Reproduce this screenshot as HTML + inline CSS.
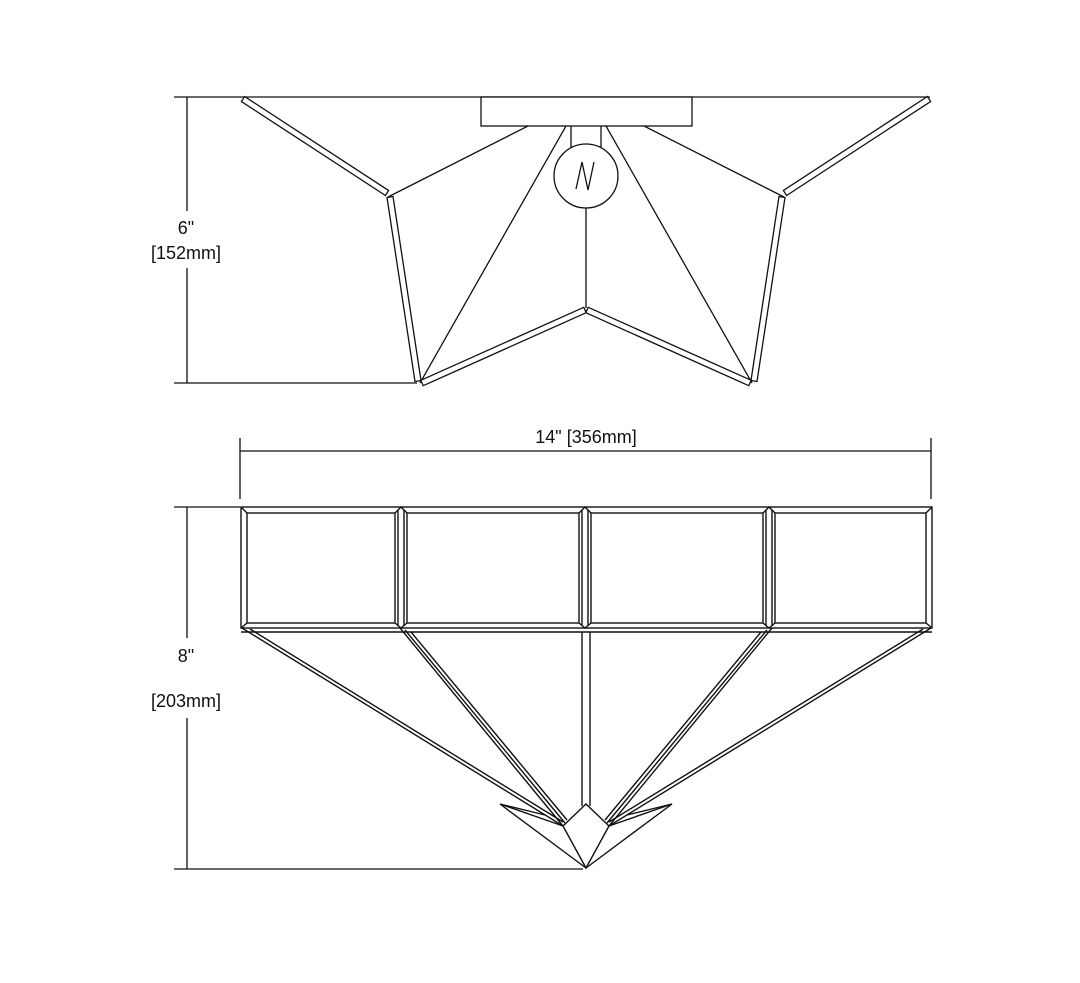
<!DOCTYPE html>
<html><head><style>
html,body{margin:0;padding:0;background:#fff;}
svg{display:block;}
text{font-family:"Liberation Sans",sans-serif;font-size:18px;fill:#111;}
</style></head><body>
<svg width="1080" height="983" viewBox="0 0 1080 983" xmlns="http://www.w3.org/2000/svg">
<g stroke="#111" stroke-width="1.3" fill="none" stroke-linecap="butt">
<line x1="187" y1="97" x2="187" y2="211"/>
<line x1="187" y1="268" x2="187" y2="383"/>
<line x1="174" y1="97" x2="930" y2="97"/>
<line x1="174" y1="383" x2="417" y2="383"/>
<rect x="481" y="97" width="211" height="29" fill="#fff"/>
<line x1="571" y1="126" x2="571" y2="150"/>
<line x1="601" y1="126" x2="601" y2="150"/>
<line x1="388" y1="197" x2="528" y2="126"/>
<line x1="784" y1="197" x2="644" y2="126"/>
<line x1="420" y1="383" x2="566" y2="126"/>
<line x1="752" y1="383" x2="606" y2="126"/>
<circle cx="586" cy="176" r="32" fill="#fff"/>
<polyline points="576,189 582,162 588,190 594,162"/>
<line x1="586" y1="208" x2="586" y2="308"/>
<g fill="#fff">
<polygon points="244.6,96.5 388.6,190.5 385.4,195.5 241.4,101.5"/>
<polygon points="927.4,96.5 783.4,190.5 786.6,195.5 930.6,101.5"/>
<polygon points="393,196.5 421,380.5 415,381.5 387,197.5"/>
<polygon points="785,197.5 757,381.5 751,380.5 779,196.5"/>
<polygon points="420.8,380.3 583.8,307.3 586.2,312.7 423.2,385.7"/>
<polygon points="751.2,380.3 588.2,307.3 585.8,312.7 748.8,385.7"/>
</g>
</g>
<text x="186" y="234" text-anchor="middle">6"</text>
<text x="186" y="259" text-anchor="middle">[152mm]</text>

<g stroke="#111" stroke-width="1.3" fill="none">
<line x1="240" y1="438" x2="240" y2="499"/>
<line x1="931" y1="438" x2="931" y2="499"/>
<line x1="240" y1="451" x2="931" y2="451"/>
<line x1="187" y1="507" x2="187" y2="638"/>
<line x1="187" y1="718" x2="187" y2="869"/>
<line x1="174" y1="507" x2="240" y2="507"/>
<line x1="174" y1="869" x2="583" y2="869"/>
</g>
<text x="586" y="443" text-anchor="middle">14" [356mm]</text>
<text x="186" y="662" text-anchor="middle">8"</text>
<text x="186" y="707" text-anchor="middle">[203mm]</text>

<g stroke="#111" stroke-width="1.4" fill="none">
<rect x="241" y="507" width="691" height="121"/>
<line x1="241" y1="632" x2="932" y2="632"/>
<rect x="247" y="513" width="148" height="110"/>
<rect x="407" y="513" width="172" height="110"/>
<rect x="591" y="513" width="172" height="110"/>
<rect x="775" y="513" width="151" height="110"/>
<path d="M241,507L247,513M395,513L401,507L407,513M579,513L585,507L591,513M763,513L769,507L775,513M926,513L932,507"/>
<path d="M241,628L247,623M395,623L401,628L407,623M579,623L585,628L591,623M763,623L769,628L775,623M926,623L932,628"/>
<line x1="398" y1="510" x2="398" y2="626"/>
<line x1="404" y1="510" x2="404" y2="626"/>
<line x1="582" y1="510" x2="582" y2="626"/>
<line x1="588" y1="510" x2="588" y2="626"/>
<line x1="766" y1="510" x2="766" y2="626"/>
<line x1="772" y1="510" x2="772" y2="626"/>
<line x1="242" y1="628" x2="563" y2="826"/>
<line x1="250" y1="629" x2="563" y2="822"/>
<line x1="931" y1="628" x2="609" y2="826"/>
<line x1="923" y1="629" x2="609" y2="822"/>
<line x1="400" y1="628" x2="563" y2="826"/>
<line x1="405" y1="630" x2="565" y2="823"/>
<line x1="411" y1="632" x2="567" y2="820"/>
<line x1="772" y1="628" x2="609" y2="826"/>
<line x1="767" y1="630" x2="607" y2="823"/>
<line x1="761" y1="632" x2="605" y2="820"/>
<line x1="582" y1="632" x2="582" y2="806"/>
<line x1="590" y1="632" x2="590" y2="806"/>
<polygon points="563,826 586,804 609,826 586,868" fill="#fff"/>
<polyline points="563,826 500,804 586,868"/>
<polyline points="609,826 672,804 586,868"/>
<line x1="500" y1="804" x2="545" y2="815"/>
<line x1="672" y1="804" x2="627" y2="815"/>
</g>
</svg>
</body></html>
